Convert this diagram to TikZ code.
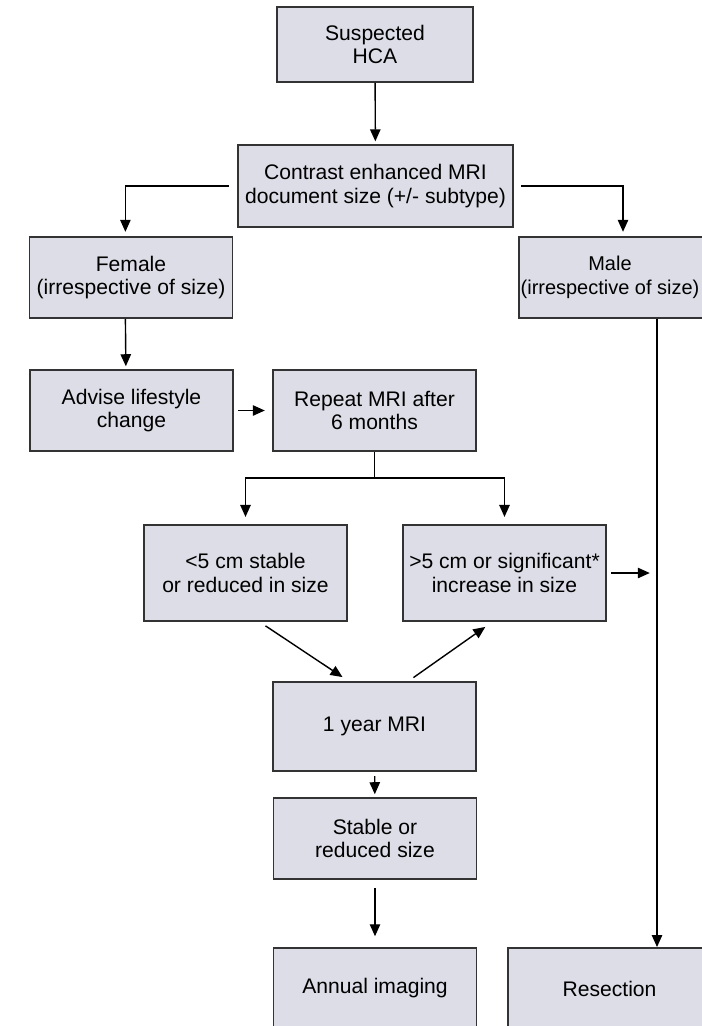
\documentclass[tikz,border=0pt]{standalone}
\usepackage{fontspec}
\setmainfont{Liberation Sans}
\usepackage{xcolor}
\usetikzlibrary{arrows.meta,positioning}
\definecolor{boxfill}{HTML}{DCDDE6}
\definecolor{boxline}{HTML}{333333}
\tikzset{
  stepbox/.style={draw=boxline, fill=boxfill, line width=1.2pt, align=center,
    inner sep=0pt, minimum width=5.08cm, minimum height=2.03cm,
    font=\fontsize{15}{16.6}\selectfont},
  flow/.style={-{Triangle[length=0.3cm,width=0.26cm]}, line width=1pt, draw=black},
  wire/.style={line width=1pt, draw=black}
}
\begin{document}
\begin{tikzpicture}[x=0.025cm, y=-0.025cm]
        % page frame
        \useasboundingbox (0,0) rectangle (702,1026);

        % draw boxes
        \node[stepbox, minimum width=4.9cm, minimum height=1.875cm] (hca) at (375,44.5) {Suspected\\HCA};
        \node[stepbox, minimum width=6.875cm, minimum height=2.05cm] (mri) at (375.5,186) {Contrast enhanced MRI\\document size (+/- subtype)};
        \node[stepbox] (female) at (131,277.5) {Female\\(irrespective of size)};
        \node[stepbox, minimum width=4.8cm, font=\fontsize{14.2}{16.6}\selectfont] (male) at (615,277.5) {Male\hspace*{0.25cm}\\(irrespective of size)\hspace*{0.25cm}};
        \node[stepbox] (advise) at (131.5,410.5) {Advise lifestyle\\change};
        \node[stepbox] (repeat) at (374.5,410.5) {Repeat MRI after\\6 months};
        \node[stepbox, minimum height=2.4cm] (small) at (245.5,573) {<5 cm stable\\or reduced in size};
        \node[stepbox, minimum height=2.4cm] (large) at (504.5,573) {>5 cm or significant*\\increase in size};
        \node[stepbox, minimum height=2.23cm] (year) at (374.5,726.5) {1 year MRI};
        \node[stepbox] (stable) at (375,838.5) {Stable or\\reduced size};
        \node[stepbox] (annual) at (375,988.5) {Annual imaging};
        \node[stepbox] (resect) at (609.5,988.5) {Resection};

        % draw connectors
        \draw[flow, shorten >=2pt] (hca) -- (mri);
        \draw[flow, shorten >=3pt] ([xshift=-0.2cm]mri.west) -| ([xshift=-0.14cm]female.north);
        \draw[flow, shorten <=0.18cm, shorten >=3pt] (mri.east) -| ([xshift=0.2cm]male.north);
        \draw[flow, shorten >=2pt] ([xshift=-0.14cm]female.south) -- ([xshift=-0.14cm]advise.north);
        \draw[flow, shorten <=3pt, shorten >=0.18cm] (advise) -- (repeat);
        \coordinate (split) at ([yshift=-0.65cm]repeat.south);
        \draw[wire] (repeat.south) -- (split);
        \draw[flow, shorten >=0.18cm] (split) -| (small.north);
        \draw[flow, shorten >=0.18cm] (split) -| (large.north);
        \coordinate (maleline) at ([xshift=1.05cm]male.south);
        \draw[flow] (maleline) -- (resect.north -| maleline);
        \draw[flow, shorten <=0.1cm, shorten >=0.18cm] (large.east) -- (large.east -| maleline);
        \draw[flow, shorten <=0.18cm, shorten >=0.18cm] ([xshift=0.35cm]small.south) -- ([xshift=-0.65cm]year.north);
        \draw[flow, shorten <=0.15cm, shorten >=0.22cm] ([xshift=0.85cm]year.north) -- ([xshift=-0.3cm]large.south);
        \draw[flow, shorten <=3pt, shorten >=2pt] (year) -- (stable);
        \draw[flow, shorten <=0.2cm, shorten >=0.27cm] (stable) -- (annual);
\end{tikzpicture}
\end{document}
